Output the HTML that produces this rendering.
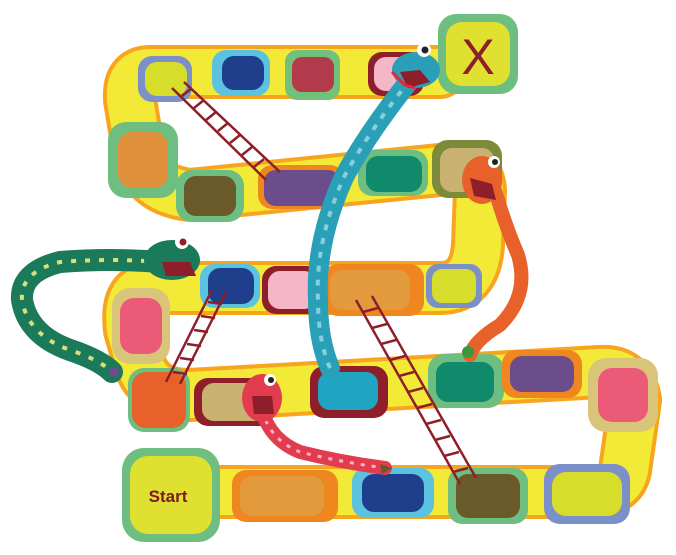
<!DOCTYPE html>
<html><head><meta charset="utf-8">
<style>
html,body{margin:0;padding:0;background:#fff;}
svg{display:block;}
</style></head>
<body>
<svg width="676" height="555" viewBox="0 0 676 555">
<g fill="none" stroke-linejoin="round" stroke-linecap="round">
<path d="M440 72 L150 72 Q128 72 130 100 L140 160 Q150 190 190 195 L460 168 Q478 168 480 190 L478 245 Q475 288 440 288 L150 288 Q125 290 130 330 L140 365 Q150 395 190 395 L600 372 Q630 370 635 400 L625 470 Q620 492 590 492 L175 492" stroke="#f7a51e" stroke-width="54"/>
<path d="M440 72 L150 72 Q128 72 130 100 L140 160 Q150 190 190 195 L460 168 Q478 168 480 190 L478 245 Q475 288 440 288 L150 288 Q125 290 130 330 L140 365 Q150 395 190 395 L600 372 Q630 370 635 400 L625 470 Q620 492 590 492 L175 492" stroke="#f3e937" stroke-width="46"/>
</g>
<g>
<rect x="138" y="56" width="54" height="46" rx="14" fill="#7b8fc9"/>
<rect x="145" y="62" width="42" height="34" rx="12" fill="#d6dd2b"/>
<rect x="212" y="50" width="58" height="46" rx="14" fill="#5bc3e0"/>
<rect x="222" y="56" width="42" height="34" rx="12" fill="#1f3f8c"/>
<rect x="285" y="50" width="55" height="50" rx="12" fill="#71c17a"/>
<rect x="292" y="57" width="42" height="35" rx="10" fill="#b33a4a"/>
<rect x="368" y="52" width="56" height="44" rx="14" fill="#8d1e2a"/>
<rect x="374" y="57" width="44" height="34" rx="12" fill="#f5b6c8"/>
<rect x="438" y="14" width="80" height="80" rx="18" fill="#6dbe80"/>
<rect x="446" y="22" width="64" height="64" rx="16" fill="#dfe030"/>
<text x="478" y="74" font-family="Liberation Sans, sans-serif" font-size="50" fill="#8d1e2a" text-anchor="middle">X</text>
<rect x="108" y="122" width="70" height="76" rx="18" fill="#6dbe80"/>
<rect x="118" y="132" width="50" height="56" rx="14" fill="#e08f3a"/>
<rect x="176" y="170" width="68" height="52" rx="16" fill="#6dbe80"/>
<rect x="184" y="176" width="52" height="40" rx="12" fill="#6a5a2a"/>
<rect x="258" y="165" width="86" height="44" rx="14" fill="#f0861f"/>
<rect x="264" y="170" width="76" height="36" rx="12" fill="#6b4d8b"/>
<rect x="358" y="150" width="70" height="46" rx="14" fill="#6dbe80"/>
<rect x="366" y="156" width="56" height="36" rx="12" fill="#0f8a6a"/>
<rect x="432" y="140" width="70" height="58" rx="16" fill="#7c8b3a"/>
<rect x="440" y="148" width="54" height="44" rx="12" fill="#c9b171"/>
<rect x="200" y="264" width="60" height="44" rx="14" fill="#5bc3e0"/>
<rect x="208" y="268" width="46" height="36" rx="12" fill="#1f3f8c"/>
<rect x="262" y="266" width="60" height="48" rx="14" fill="#8d1e2a"/>
<rect x="268" y="271" width="48" height="38" rx="12" fill="#f5b6c8"/>
<rect x="324" y="264" width="100" height="52" rx="14" fill="#f0861f"/>
<rect x="330" y="270" width="80" height="40" rx="12" fill="#e39a3d"/>
<rect x="426" y="264" width="56" height="44" rx="12" fill="#7b8fc9"/>
<rect x="432" y="269" width="44" height="34" rx="10" fill="#d6dd2b"/>
<rect x="112" y="288" width="58" height="76" rx="18" fill="#d9c57a"/>
<rect x="120" y="298" width="42" height="56" rx="14" fill="#eb5b78"/>
<rect x="128" y="368" width="62" height="64" rx="16" fill="#6dbe80"/>
<rect x="132" y="372" width="54" height="56" rx="14" fill="#e8602a"/>
<rect x="194" y="378" width="80" height="48" rx="14" fill="#8d1e2a"/>
<rect x="202" y="383" width="64" height="38" rx="12" fill="#c9b171"/>
<rect x="310" y="366" width="78" height="52" rx="14" fill="#8d1e2a"/>
<rect x="318" y="372" width="60" height="38" rx="12" fill="#1fa5c1"/>
<rect x="428" y="354" width="76" height="54" rx="16" fill="#6dbe80"/>
<rect x="436" y="362" width="58" height="40" rx="12" fill="#0f8a6a"/>
<rect x="502" y="350" width="80" height="48" rx="14" fill="#f0861f"/>
<rect x="510" y="356" width="64" height="36" rx="12" fill="#6b4d8b"/>
<rect x="588" y="358" width="70" height="74" rx="18" fill="#d9c57a"/>
<rect x="598" y="368" width="50" height="54" rx="14" fill="#eb5b78"/>
<rect x="122" y="448" width="98" height="94" rx="22" fill="#6dbe80"/>
<rect x="130" y="456" width="82" height="78" rx="18" fill="#dfe030"/>
<text x="168" y="502" font-family="Liberation Sans, sans-serif" font-size="17" font-weight="bold" fill="#7a1a22" text-anchor="middle">Start</text>
<rect x="232" y="470" width="106" height="52" rx="14" fill="#f0861f"/>
<rect x="240" y="476" width="84" height="40" rx="12" fill="#e39a3d"/>
<rect x="352" y="468" width="82" height="50" rx="14" fill="#5bc3e0"/>
<rect x="362" y="474" width="62" height="38" rx="12" fill="#1f3f8c"/>
<rect x="448" y="468" width="80" height="56" rx="14" fill="#6dbe80"/>
<rect x="456" y="474" width="64" height="44" rx="12" fill="#6a5a2a"/>
<rect x="544" y="464" width="86" height="60" rx="16" fill="#7b8fc9"/>
<rect x="552" y="472" width="70" height="44" rx="14" fill="#d6dd2b"/>
</g>
<g stroke="#8d1e2a" stroke-width="2.5" fill="none">
<g>
<line x1="172" y1="88" x2="266" y2="180"/><line x1="184" y1="82" x2="280" y2="172"/>
<line x1="182" y1="96" x2="192" y2="88"/><line x1="194" y1="108" x2="204" y2="100"/><line x1="206" y1="120" x2="216" y2="112"/><line x1="218" y1="131" x2="228" y2="123"/><line x1="230" y1="143" x2="240" y2="135"/><line x1="242" y1="155" x2="252" y2="147"/><line x1="254" y1="167" x2="264" y2="159"/>
</g>
<g>
<line x1="212" y1="290" x2="166" y2="382"/><line x1="226" y1="292" x2="180" y2="384"/>
<line x1="208" y1="302" x2="222" y2="304"/><line x1="201" y1="316" x2="215" y2="318"/><line x1="194" y1="330" x2="208" y2="332"/><line x1="187" y1="344" x2="201" y2="346"/><line x1="180" y1="358" x2="194" y2="360"/><line x1="173" y1="372" x2="187" y2="374"/>
</g>
<g>
<line x1="356" y1="300" x2="460" y2="484"/><line x1="372" y1="296" x2="476" y2="478"/>
<line x1="363" y1="312" x2="378" y2="308"/><line x1="372" y1="328" x2="387" y2="324"/><line x1="381" y1="344" x2="396" y2="340"/><line x1="390" y1="360" x2="405" y2="356"/><line x1="399" y1="376" x2="414" y2="372"/><line x1="408" y1="392" x2="423" y2="388"/><line x1="417" y1="408" x2="432" y2="404"/><line x1="426" y1="424" x2="441" y2="420"/><line x1="435" y1="440" x2="450" y2="436"/><line x1="444" y1="456" x2="459" y2="452"/><line x1="453" y1="472" x2="468" y2="468"/>
</g>
</g>
<g>
<path d="M410 80 Q370 130 345 175 Q315 240 318 300 Q318 340 330 368" stroke="#2a9fb8" stroke-width="20" fill="none" stroke-linecap="round"/>
<path d="M410 80 Q370 130 345 175 Q315 240 318 300 Q318 340 330 368" stroke="#85d0dd" stroke-width="4" fill="none" stroke-dasharray="6 8"/>
<ellipse cx="416" cy="70" rx="24" ry="18" fill="#2a9fb8"/>
<path d="M400 72 L420 70 L430 82 L408 88 Z" fill="#8d1e2a"/>
<path d="M392 72 L405 85 L415 88" stroke="#e23" stroke-width="3" fill="none"/>
<circle cx="424" cy="50" r="7" fill="#fff"/><circle cx="425" cy="50" r="3.5" fill="#222"/>
</g>
<g>
<path d="M495 190 Q505 225 518 255 Q530 295 500 325 Q475 340 470 355" stroke="#e8602a" stroke-width="14" fill="none" stroke-linecap="round"/>
<ellipse cx="482" cy="180" rx="20" ry="24" fill="#e8602a"/>
<path d="M470 178 L492 184 L496 200 L474 196 Z" fill="#8d1e2a"/>
<circle cx="494" cy="162" r="6" fill="#fff"/><circle cx="495" cy="162" r="3" fill="#222"/>
<circle cx="468" cy="352" r="6" fill="#3a9a3a"/>
</g>
<g>
<path d="M160 262 Q110 258 60 262 Q20 272 22 300 Q28 335 70 350 Q100 360 112 372" stroke="#1a7a5a" stroke-width="22" fill="none" stroke-linecap="round"/>
<path d="M160 262 Q110 258 60 262 Q20 272 22 300 Q28 335 70 350 Q100 360 112 372" stroke="#d9e07a" stroke-width="4" fill="none" stroke-dasharray="5 9"/>
<ellipse cx="172" cy="260" rx="28" ry="20" fill="#1a7a5a"/>
<path d="M162 262 L190 262 L196 276 L166 276 Z" fill="#8d1e2a"/>
<circle cx="182" cy="242" r="7" fill="#fff"/><circle cx="183" cy="242" r="3.5" fill="#8d1e2a"/>
<circle cx="114" cy="372" r="5" fill="#6b4d8b"/>
</g>
<g>
<path d="M262 410 Q270 440 300 452 Q340 462 385 468" stroke="#e23d4e" stroke-width="14" fill="none" stroke-linecap="round"/>
<path d="M262 410 Q270 440 300 452 Q340 462 385 468" stroke="#f5b6c8" stroke-width="3" fill="none" stroke-dasharray="4 7"/>
<ellipse cx="262" cy="398" rx="20" ry="24" fill="#e23d4e"/>
<path d="M252 396 L272 396 L274 414 L254 414 Z" fill="#8d1e2a"/>
<circle cx="270" cy="380" r="6" fill="#fff"/><circle cx="271" cy="380" r="3" fill="#222"/>
<path d="M380 464 L392 468 L382 474 Z" fill="#6a5a2a"/>
</g>
</svg>
</body></html>
